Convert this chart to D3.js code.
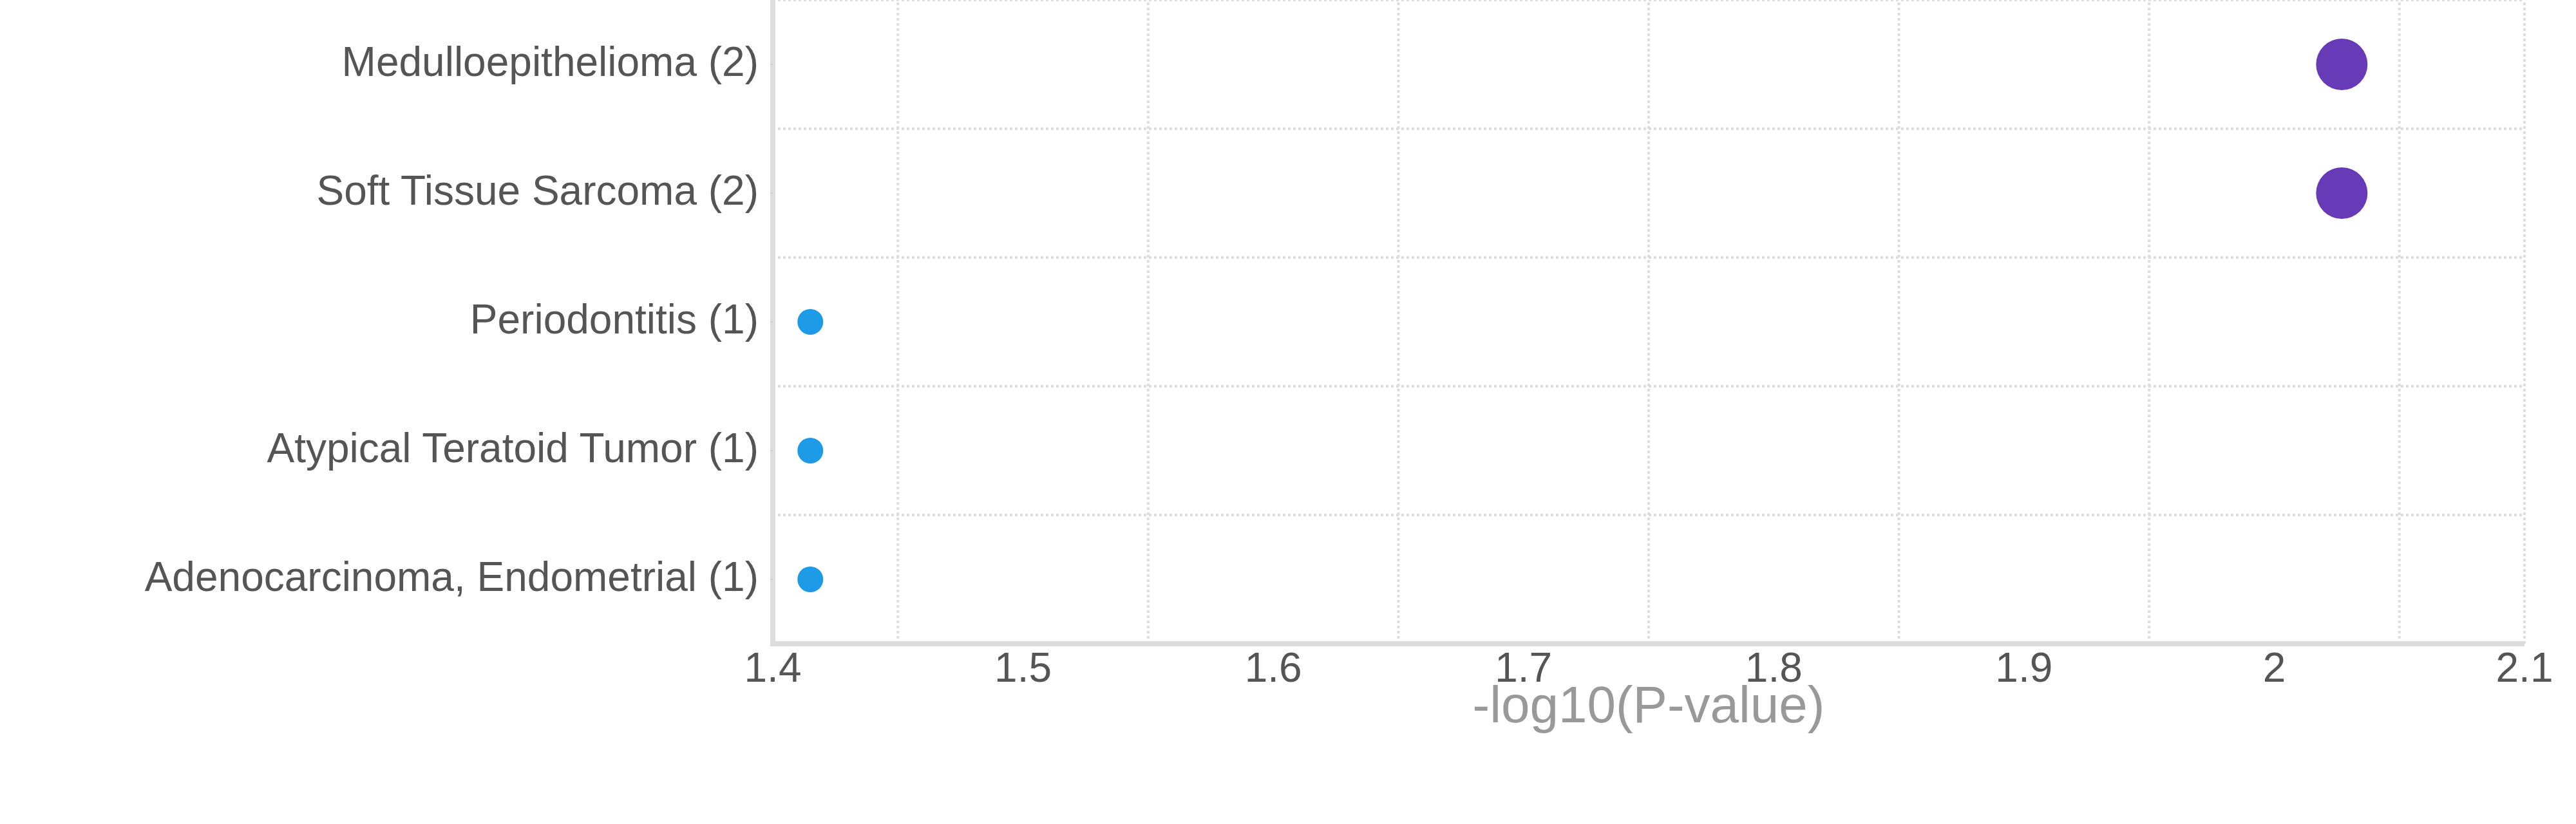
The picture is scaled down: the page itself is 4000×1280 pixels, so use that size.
<!DOCTYPE html>
<html>
<head>
<meta charset="utf-8">
<script src="https://cdn.jsdelivr.net/npm/d3@7"></script>
<style>
  html, body { margin: 0; padding: 0; background: #fff; }
  svg { display: block; }
</style>
</head>
<body>
<script>
// ---- data ----
const categories = [
  "Medulloepithelioma (2)",
  "Soft Tissue Sarcoma (2)",
  "Periodontitis (1)",
  "Atypical Teratoid Tumor (1)",
  "Adenocarcinoma, Endometrial (1)"
];
const pValuesNegLog = [2.027, 2.027, 1.415, 1.415, 1.415];
const geneCounts = [2, 2, 1, 1, 1];
const xTickValues = [1.4, 1.5, 1.6, 1.7, 1.8, 1.9, 2.0, 2.1];
const xGridValues = [1.45, 1.55, 1.65, 1.75, 1.85, 1.95, 2.05, 2.1];
const xTitle = "-log10(P-value)";

(function () {
// ---- layout ----
const W = 4000, H = 1280;
const mLeft = 1200, mRight = 3920, mTop = 0, mBottom = 1000;
const font = "'Liberation Sans', Arial, sans-serif";

const svg = d3.select("body").append("svg")
  .attr("width", W).attr("height", H);

const x = d3.scaleLinear().domain([1.4, 2.1]).range([mLeft, mRight]);
const y = d3.scaleBand().domain(categories).range([mTop, mBottom]).padding(0);
const r = d3.scaleLinear().domain([0, 2]).range([0, 40]);
const color = d3.scaleOrdinal().domain([1, 2]).range(["#1d9be6", "#673ab7"]);

const gridColor = "#dddddd";
const dash = "4,4";

// grid: horizontal
const hLines = [mTop].concat(categories.slice(1).map(c => y(c)));
svg.append("g").selectAll("line").data(hLines).join("line")
  .attr("x1", mLeft).attr("x2", mRight)
  .attr("y1", d => d).attr("y2", d => d)
  .attr("stroke", gridColor).attr("stroke-width", 4)
  .attr("stroke-dasharray", dash);

// grid: vertical
svg.append("g").selectAll("line").data(xGridValues).join("line")
  .attr("x1", d => x(d)).attr("x2", d => x(d))
  .attr("y1", mBottom).attr("y2", mTop)
  .attr("stroke", gridColor).attr("stroke-width", 4)
  .attr("stroke-dasharray", dash);

// axes lines
const axisColor = "#dddddd";
svg.append("line")
  .attr("x1", mLeft).attr("x2", mLeft).attr("y1", mTop).attr("y2", mBottom + 4)
  .attr("stroke", axisColor).attr("stroke-width", 8);
svg.append("line")
  .attr("x1", mLeft - 4).attr("x2", mRight).attr("y1", mBottom).attr("y2", mBottom)
  .attr("stroke", axisColor).attr("stroke-width", 8);

// y ticks (small)
svg.append("g").selectAll("line").data(categories).join("line")
  .attr("x1", mLeft - 4).attr("x2", mLeft)
  .attr("y1", d => y(d) + y.bandwidth() / 2).attr("y2", d => y(d) + y.bandwidth() / 2)
  .attr("stroke", "#c8c8c8").attr("stroke-width", 1.5);

// y labels
svg.append("g").selectAll("text").data(categories).join("text")
  .attr("x", 1178)
  .attr("y", d => y(d) + y.bandwidth() / 2 + 18)
  .attr("text-anchor", "end")
  .attr("font-family", font).attr("font-size", 64)
  .attr("fill", "#555555")
  .text(d => d);

// x tick labels
const fmt = d3.format("~g");
svg.append("g").selectAll("text").data(xTickValues).join("text")
  .attr("x", d => x(d))
  .attr("y", 1059)
  .attr("text-anchor", "middle")
  .attr("font-family", font).attr("font-size", 64)
  .attr("fill", "#555555")
  .text(d => fmt(d));

// x title
svg.append("text")
  .attr("x", (mLeft + mRight) / 2).attr("y", 1122)
  .attr("text-anchor", "middle")
  .attr("font-family", font).attr("font-size", 80)
  .attr("fill", "#999999")
  .text(xTitle);

// points
const pts = categories.map((c, i) => ({ c, v: pValuesNegLog[i], n: geneCounts[i] }));
svg.append("g").selectAll("circle").data(pts).join("circle")
  .attr("cx", d => x(d.v))
  .attr("cy", d => y(d.c) + y.bandwidth() / 2)
  .attr("r", d => r(d.n))
  .attr("fill", d => color(d.n));
})();
</script>
</body>
</html>
